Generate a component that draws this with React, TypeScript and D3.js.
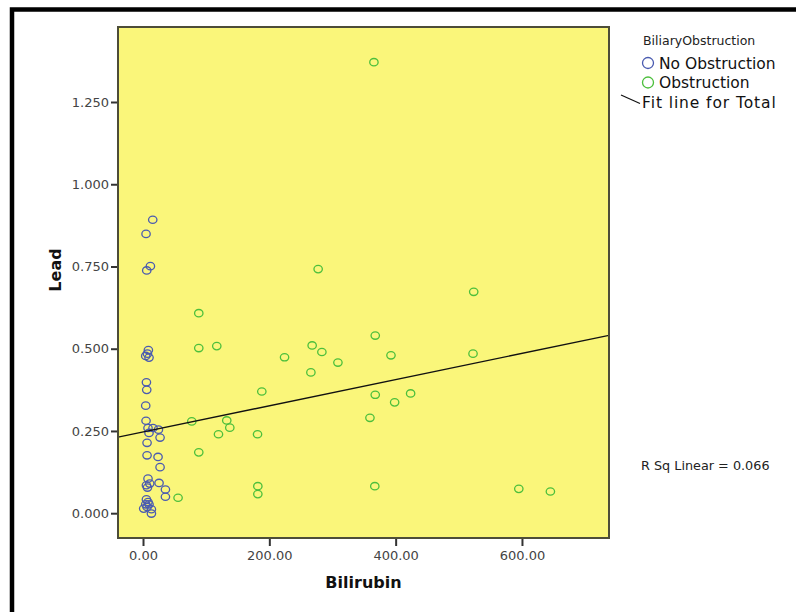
import React, { useEffect, useRef } from 'react';
import * as d3 from 'd3';

// Bilirubin vs Lead, grouped by biliary obstruction
const noObstructionX = [15.4, 4.8, 11.7, 5.9, 8.5, 4.3, 9.5, 7.0, 5.4, 5.9, 4.3, 4.8, 7.9, 15.8, 24.4, 9.5, 27.0, 6.4, 6.4, 23.8, 27.0, 7.9, 5.4, 10.6, 7.0, 25.4, 35.5, 35.5, 5.4, 7.9, 4.3, 9.5, 6.4, 1.1, 13.3, 13.3];
const noObstructionY = [0.892, 0.849, 0.751, 0.738, 0.496, 0.478, 0.473, 0.485, 0.398, 0.375, 0.327, 0.281, 0.259, 0.259, 0.254, 0.244, 0.230, 0.214, 0.176, 0.171, 0.140, 0.105, 0.085, 0.090, 0.078, 0.092, 0.072, 0.050, 0.042, 0.034, 0.027, 0.027, 0.019, 0.014, 0.012, -0.001];

const obstructionX = [365.6, 88.3, 88.3, 116.8, 277.3, 224.1, 267.8, 283.2, 308.6, 265.8, 367.7, 392.6, 188.1, 367.7, 398.4, 423.7, 359.3, 77.2, 132.6, 137.4, 119.5, 181.3, 88.3, 523.6, 522.5, 595.0, 645.0, 181.8, 181.8, 367.0, 55.5];
const obstructionY = [1.371, 0.608, 0.502, 0.508, 0.742, 0.474, 0.510, 0.490, 0.458, 0.428, 0.540, 0.480, 0.370, 0.360, 0.337, 0.364, 0.290, 0.279, 0.282, 0.260, 0.240, 0.240, 0.185, 0.673, 0.485, 0.074, 0.066, 0.082, 0.058, 0.082, 0.047];

const xTicks = [0, 200, 400, 600];
const yTicks = [0, 0.25, 0.5, 0.75, 1.0, 1.25];
const xDomain = [-39.6, 737.8];
const yDomain = [-0.0754, 1.478];

// fit line for total
const fitIntercept = 0.247;
const fitSlope = 0.000398;
const rSqLinear = 0.066;

const legendTitle = 'BiliaryObstruction';
const groupNames = ['No Obstruction', 'Obstruction'];
const groupColors = ['#4a5bb0', '#4cbf3c'];

function App() {
  const ref = useRef(null);

  useEffect(() => {
    const svg = d3.select(ref.current);
    svg.selectAll('*').remove();

    const left = 118, top = 27, width = 491, height = 511;
    const font = 'DejaVu Sans, sans-serif';

    const x = d3.scaleLinear().domain(xDomain).range([left, left + width]);
    const y = d3.scaleLinear().domain(yDomain).range([top + height, top]);

    svg.append('rect')
      .attr('width', 796).attr('height', 612).attr('fill', '#fff');

    // outer frame
    svg.append('rect')
      .attr('x', 12).attr('y', 9.5).attr('width', 900).attr('height', 700)
      .attr('fill', 'none').attr('stroke', '#000').attr('stroke-width', 4.5);

    svg.append('rect')
      .attr('x', left).attr('y', top).attr('width', width).attr('height', height)
      .attr('fill', '#faf67a');

    const clip = svg.append('clipPath').attr('id', 'plotclip');
    clip.append('rect').attr('x', left).attr('y', top).attr('width', width).attr('height', height);

    // y axis
    const yAxis = svg.append('g').attr('transform', `translate(${left},0)`)
      .call(d3.axisLeft(y).tickValues(yTicks).tickFormat(d3.format('.3f')).tickSize(7).tickPadding(2));
    yAxis.select('.domain').remove();
    yAxis.selectAll('line').attr('stroke', '#333').attr('stroke-width', 2);
    yAxis.selectAll('text').attr('font-family', font).attr('font-size', 13).attr('fill', '#444');

    // x axis
    const xAxis = svg.append('g').attr('transform', `translate(0,${top + height})`)
      .call(d3.axisBottom(x).tickValues(xTicks).tickFormat(d3.format('.2f')).tickSize(8).tickPadding(5));
    xAxis.select('.domain').remove();
    xAxis.selectAll('line').attr('stroke', '#333').attr('stroke-width', 2);
    xAxis.selectAll('text').attr('font-family', font).attr('font-size', 13).attr('fill', '#444');

    const g = svg.append('g').attr('clip-path', 'url(#plotclip)');

    const groups = [
      noObstructionX.map((v, i) => [v, noObstructionY[i]]),
      obstructionX.map((v, i) => [v, obstructionY[i]]),
    ];

    groups.forEach((pts, gi) => {
      g.selectAll(null)
        .data(pts)
        .enter()
        .append('ellipse')
          .attr('cx', d => x(d[0]))
          .attr('cy', d => y(d[1]))
          .attr('rx', 4.2)
          .attr('ry', 3.7)
          .attr('fill', 'none')
          .attr('stroke', groupColors[gi])
          .attr('stroke-width', 1.3);
    });

    const line = d3.line().x(d => x(d[0])).y(d => y(d[1]));
    g.append('path')
      .attr('d', line(xDomain.map(v => [v, fitIntercept + fitSlope * v])))
      .attr('fill', 'none')
      .attr('stroke', '#111')
      .attr('stroke-width', 1.4);

    // plot border
    svg.append('rect')
      .attr('x', left).attr('y', top).attr('width', width).attr('height', height)
      .attr('fill', 'none').attr('stroke', '#4d4d38').attr('stroke-width', 2);

    // axis titles
    svg.append('text')
      .attr('x', left + width / 2).attr('y', 588)
      .attr('text-anchor', 'middle')
      .attr('font-family', font).attr('font-weight', 'bold').attr('font-size', 16)
      .attr('fill', '#111')
      .text('Bilirubin');

    svg.append('text')
      .attr('transform', 'translate(61,270) rotate(-90)')
      .attr('text-anchor', 'middle')
      .attr('font-family', font).attr('font-weight', 'bold').attr('font-size', 16)
      .attr('fill', '#111')
      .text('Lead');

    // legend
    svg.append('text')
      .attr('x', 643).attr('y', 45)
      .attr('font-family', font).attr('font-size', 12.5).attr('fill', '#222')
      .text(legendTitle);

    groupNames.forEach((name, i) => {
      const cy = 63 + i * 19.5;
      svg.append('circle')
        .attr('cx', 648).attr('cy', cy).attr('r', 5.5)
        .attr('fill', 'none').attr('stroke', groupColors[i]).attr('stroke-width', 1.3);
      svg.append('text')
        .attr('x', 659).attr('y', cy + 5.5)
        .attr('font-family', font).attr('font-size', 15.5).attr('fill', '#111')
        .text(name);
    });

    svg.append('line')
      .attr('x1', 621).attr('y1', 95).attr('x2', 640).attr('y2', 103.5)
      .attr('stroke', '#111').attr('stroke-width', 1.2);
    svg.append('text')
      .attr('x', 642).attr('y', 107.5)
      .attr('font-family', font).attr('font-size', 15.5).attr('letter-spacing', 0.9).attr('fill', '#111')
      .text('Fit line for Total');

    svg.append('text')
      .attr('x', 641).attr('y', 470)
      .attr('font-family', font).attr('font-size', 12.8).attr('fill', '#222')
      .text(`R Sq Linear = ${d3.format('.3f')(rSqLinear)}`);
  }, []);

  return (
    <svg ref={ref} width={796} height={612} style={{ position: 'absolute', left: 0, top: 0 }} />
  );
}

export default App;
